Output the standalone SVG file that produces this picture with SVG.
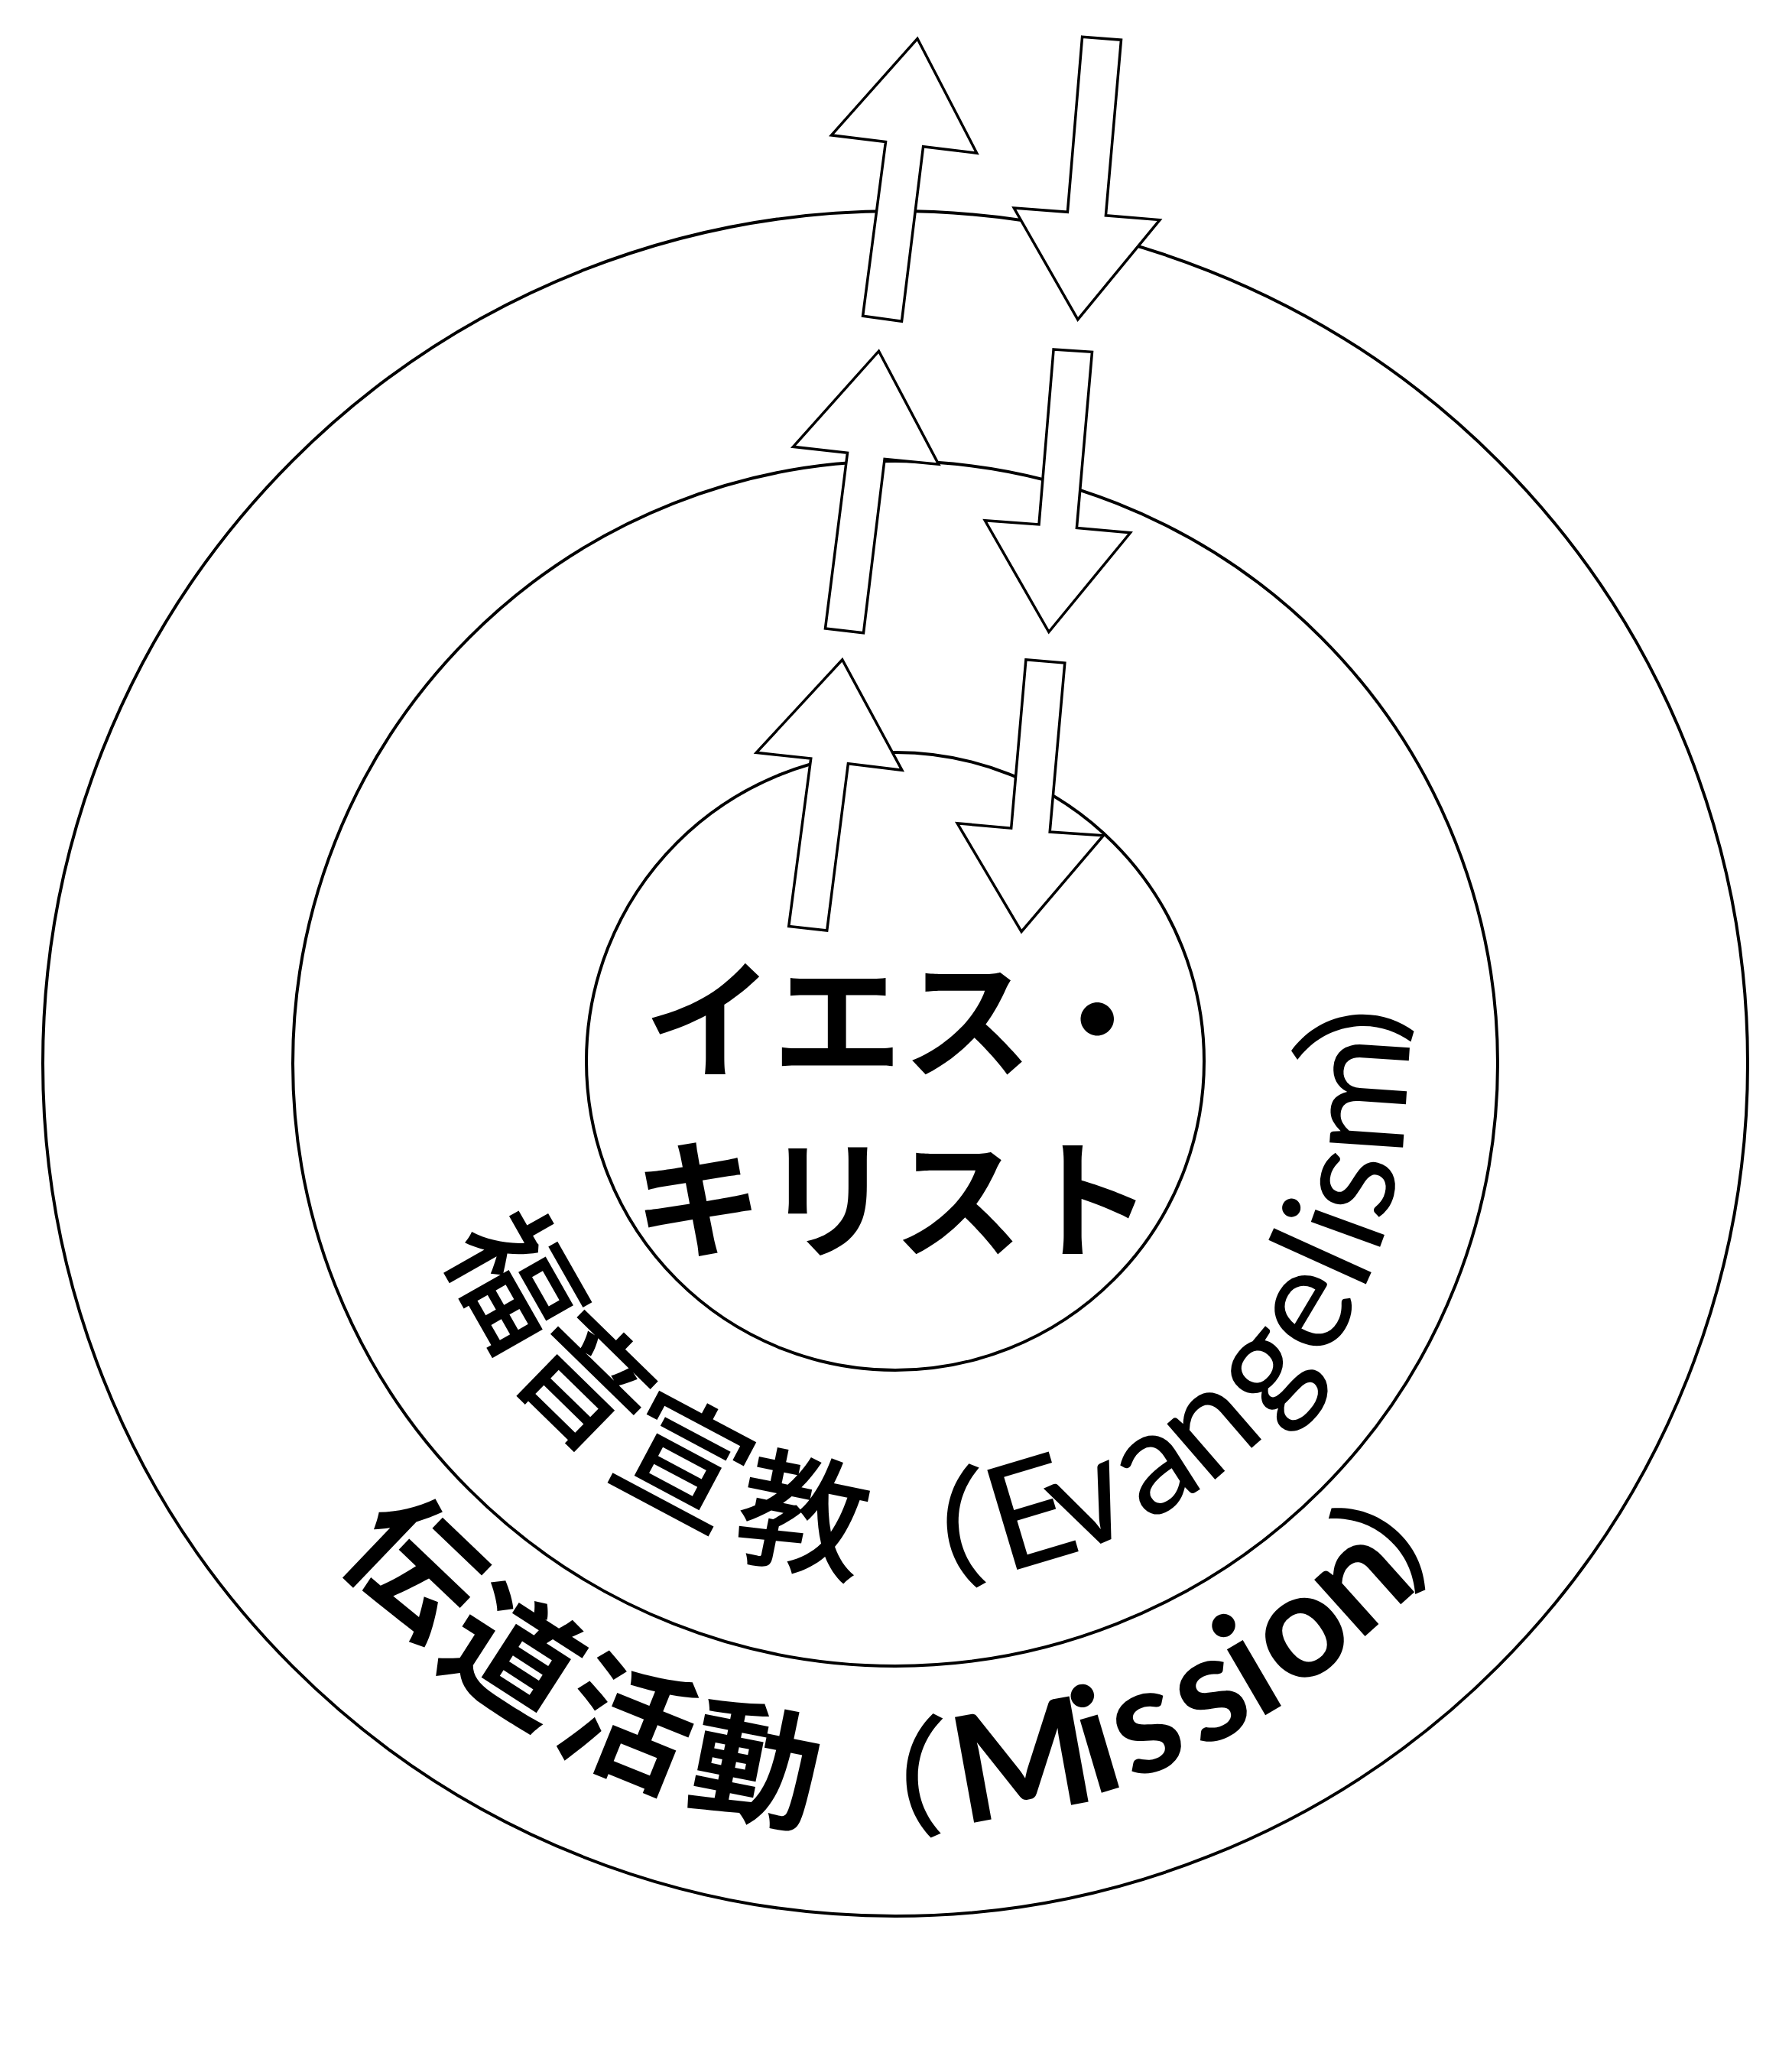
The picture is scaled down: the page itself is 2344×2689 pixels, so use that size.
<svg xmlns="http://www.w3.org/2000/svg" width="2344" height="2689" viewBox="0 0 2344 2689">
<style>
.ring{fill:none;stroke:#000;stroke-width:4}
.arrow{fill:#fff;stroke:#000;stroke-width:3.5;stroke-linejoin:miter}
.jp{font-family:"Noto Sans CJK JP","Noto Sans CJK SC",sans-serif;fill:#000}
.lat{font-family:Lato,"Noto Sans",sans-serif;fill:#000}
.c1{font-size:170px;font-weight:500}
.l1{font-size:190px;font-weight:400}
.c2{font-size:170px;font-weight:700}
.l2{font-size:194px;font-weight:700}
.ctr{font-size:170px;font-weight:700}
</style>
<rect x="0" y="0" width="2344" height="2689" fill="#fff"/>
<g id="outer-circle"><circle class="ring" cx="1171" cy="1391" r="1115"/></g>
<g id="middle-circle"><circle class="ring" cx="1171" cy="1391" r="788"/></g>
<g id="inner-circle"><circle class="ring" cx="1171" cy="1388" r="404"/></g>
<g id="connectors">
<polygon class="arrow" points="1200,50.5 1277.7,200.3 1207.6,191.7 1179.5,420.2 1128.6,413.3 1158.5,185.4 1087.5,176.8"/>
<polygon class="arrow" points="1149.5,459.2 1227.7,607.3 1157.1,600.4 1129.5,827.7 1079.5,822 1108.5,592.3 1037.5,584.3"/>
<polygon class="arrow" points="1101.8,862.8 1179.9,1007.3 1109.4,998.7 1081.7,1217.1 1031.7,1211.4 1060.7,992 989.3,984.3"/>
<polygon class="arrow" points="1415.6,48.2 1466.5,52.2 1446.4,281.8 1517,287.6 1409.8,417.9 1326.3,272 1396.4,277.3"/>
<polygon class="arrow" points="1378.1,456.9 1428.5,460.3 1408.4,690.5 1478.5,696.8 1371.9,826.5 1288.4,680.8 1359,686"/>
<polygon class="arrow" points="1341.9,862.8 1392.8,867 1373.2,1088 1443.3,1092.7 1336.1,1218.4 1252.2,1076.8 1322.7,1083.2"/>
</g>
<g id="label-jesus-christ">
<text class="jp ctr" x="842" y="1398">イエス・</text>
<text class="jp ctr" x="828" y="1633">キリスト</text>
</g>
<g id="label-evangelism" text-anchor="middle">
<text class="jp c1" transform="translate(618.9 1704.7) rotate(60.4)">福</text>
<text class="jp c1" transform="translate(722.0 1851.3) rotate(44.3)">音</text>
<text class="jp c1" transform="translate(865.4 1965.8) rotate(28)">宣</text>
<text class="jp c1" transform="translate(1038.2 2043.6) rotate(11.5)">教</text>
<text class="jp c1" transform="translate(1212.1 2063.7) rotate(-3.5)">（</text>
<text class="lat l1" transform="translate(1366.4 2042.3) rotate(-16.7)">E</text>
<text class="lat l1" transform="translate(1446.6 2015.9) rotate(-23.8)">v</text>
<text class="lat l1" transform="translate(1540.5 1966.6) rotate(-32.7)">a</text>
<text class="lat l1" transform="translate(1619.2 1909.0) rotate(-40.9)">n</text>
<text class="lat l1" transform="translate(1697.3 1827.9) rotate(-50.3)">g</text>
<text class="lat l1" transform="translate(1756.8 1740.2) rotate(-59.2)">e</text>
<text class="lat l1" transform="translate(1790.3 1671.9) rotate(-65.6)">l</text>
<text class="lat l1" transform="translate(1808.1 1622.9) rotate(-70)">i</text>
<text class="lat l1" transform="translate(1822.3 1560.6) rotate(-75.4)">s</text>
<text class="lat l1" transform="translate(1839.5 1436.0) rotate(-86.15)">m</text>
<text class="jp c1" transform="translate(1822.9 1287.8) rotate(-99)">）</text>
</g>
<g id="label-mission" text-anchor="middle">
<text class="jp c2" transform="translate(500.2 2093.0) rotate(43.7)">伝</text>
<text class="jp c2" transform="translate(637.4 2219.0) rotate(32.8)">道</text>
<text class="jp c2" transform="translate(798.6 2312.6) rotate(22)">活</text>
<text class="jp c2" transform="translate(977.2 2370.0) rotate(11.2)">動</text>
<text class="jp c1" transform="translate(1153.6 2385.8) rotate(1)">（</text>
<text class="lat l2" transform="translate(1348.9 2370.0) rotate(-10.3)">M</text>
<text class="lat l2" transform="translate(1452.5 2341.2) rotate(-16.5)">i</text>
<text class="lat l2" transform="translate(1519.5 2313.3) rotate(-20.7)">s</text>
<text class="lat l2" transform="translate(1608.7 2268.9) rotate(-26.5)">s</text>
<text class="lat l2" transform="translate(1665.4 2237.1) rotate(-30.3)">i</text>
<text class="lat l2" transform="translate(1735.4 2182.3) rotate(-35.5)">o</text>
<text class="lat l2" transform="translate(1817.5 2111.5) rotate(-41.9)">n</text>
<text class="jp c1" transform="translate(1894.0 2019.5) rotate(-49)">）</text>
</g>
</svg>
